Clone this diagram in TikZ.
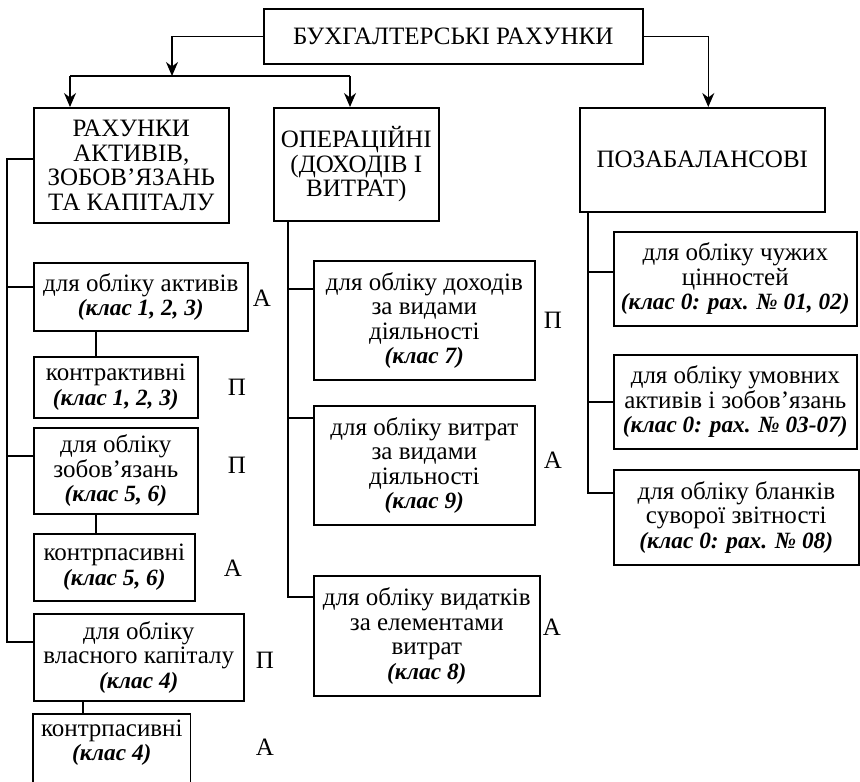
\documentclass[tikz,border=0pt]{standalone}
\usepackage{fontspec}
\setmainfont{Liberation Serif}
\usetikzlibrary{arrows.meta}
\newcommand\fsz{\fontsize{25}{24.5}\selectfont}
\newcommand\kl[1]{{\fontsize{23.3}{24.5}\selectfont\textbf{\textit{#1}}}}
\begin{document}
\begin{tikzpicture}[x=1pt,y=-1pt,
  box/.style={draw, line width=1.6pt, inner sep=0pt, align=center, anchor=north west, font=\fsz},
  lbl/.style={font=\fsz, inner sep=0pt},
  conn/.style={line width=1.6pt},
  arr/.style={line width=1.6pt, -{Stealth[length=14pt,width=12pt,inset=4.5pt]}}]
\useasboundingbox (0,0) rectangle (860,782);
\fill[white] (0,0) rectangle (860,782);
\clip (0,0) rectangle (860,782);

% top level
\node[box, minimum width=379, minimum height=55] (top) at (263,8) {БУХГАЛТЕРСЬКІ РАХУНКИ};
\node[box, minimum width=195, minimum height=115] (b1) at (33,107) {РАХУНКИ\\АКТИВІВ,\\ЗОБОВ’ЯЗАНЬ\\ТА КАПІТАЛУ};
\node[box, minimum width=165, minimum height=113] (b2) at (273,107) {ОПЕРАЦІЙНІ\\(ДОХОДІВ І\\ВИТРАТ)};
\node[box, minimum width=245, minimum height=104] (b3) at (579,107) {ПОЗАБАЛАНСОВІ};

% left column
\node[box, minimum width=214, minimum height=68] (a1) at (33,262) {для обліку активів\\\kl{(клас 1, 2, 3)}};
\node[box, minimum width=164, minimum height=61] (a2) at (33,356) {контрактивні\\\kl{(клас 1, 2, 3)}};
\node[box, minimum width=164, minimum height=86] (a3) at (33,427) {для обліку\\зобов’язань\\\kl{(клас 5, 6)}};
\node[box, minimum width=161, minimum height=67] (a4) at (33,533) {контрпасивні\\\kl{(клас 5, 6)}};
\node[box, minimum width=210, minimum height=87] (a5) at (33,613) {для обліку\\власного капіталу\\\kl{(клас 4)}};
\node[box, draw=none, minimum width=156, minimum height=56] (a6) at (33,714) {контрпасивні\\\kl{(клас 4)}};
\draw[conn] ([yshift=-60pt]a6.south west) -- (a6.north west) -- (a6.north east) -- ([yshift=-60pt]a6.south east);

% middle column
\node[box, minimum width=221, minimum height=119] (m1) at (313,260) {для обліку доходів\\за видами\\діяльності\\\kl{(клас 7)}};
\node[box, minimum width=221, minimum height=119] (m2) at (313,405) {для обліку витрат\\за видами\\діяльності\\\kl{(клас 9)}};
\node[box, minimum width=226, minimum height=120] (m3) at (313,575) {для обліку видатків\\за елементами\\витрат\\\kl{(клас 8)}};

% right column
\node[box, minimum width=243, minimum height=94] (r1) at (613,231) {для обліку чужих\\цінностей\\\kl{(клас 0: рах. № 01, 02)}};
\node[box, minimum width=243, minimum height=94] (r2) at (613,354) {для обліку умовних\\активів і зобов’язань\\\kl{(клас 0: рах. № 03-07)}};
\node[box, minimum width=245, minimum height=95] (r3) at (613,469) {для обліку бланків\\суворої звітності\\\kl{(клас 0: рах. № 08)}};

% side labels
\node[lbl] (la1) at (262,298) {А};
\node[lbl] (la2) at (237,387) {П};
\node[lbl] (la3) at (237,465) {П};
\node[lbl] (la4) at (233,568) {А};
\node[lbl] (la5) at (265,660) {П};
\node[lbl] (la6) at (265,747) {А};
\node[lbl] (lm1) at (553,320) {П};
\node[lbl] (lm2) at (553,460) {А};
\node[lbl] (lm3) at (552,627) {А};

% top connectors
\coordinate (hm) at (172,76);
\coordinate (hl) at (70,76);
\coordinate (hr) at (350,76);
\draw[arr] (top.west) -| (hm);
\draw[conn] (hl) -- (hr);
\draw[arr] (hl) -- (b1.north -| hl);
\draw[arr] (hr) -- (b2.north -| hr);
\draw[arr] (top.east) -| ([xshift=6pt]b3.north);

% left trunk
\coordinate (lt) at (7,159);
\coordinate (lj1) at (7,287);
\coordinate (lj3) at (7,456);
\coordinate (lb) at (7,642);
\draw[conn] (b1.west |- lt) -- (lt) -- (lb) -- (a5.west |- lb);
\draw[conn] (lj1) -- (a1.west |- lj1);
\draw[conn] (lj3) -- (a3.west |- lj3);
\draw[conn] ([xshift=63pt]a1.south west) -- ([xshift=63pt]a2.north west);
\draw[conn] ([xshift=63pt]a3.south west) -- ([xshift=63pt]a4.north west);
\draw[conn] ([xshift=50pt]a5.south west) -- ([xshift=50pt]a6.north west);

% middle trunk
\coordinate (mj1) at (288,289);
\coordinate (mj2) at (288,418);
\coordinate (mb) at (288,597);
\draw[conn] ([xshift=15pt]b2.south west) |- (m3.west |- mb);
\draw[conn] (mj1) -- (m1.west |- mj1);
\draw[conn] (mj2) -- (m2.west |- mj2);

% right trunk
\coordinate (rj1) at (588,272);
\coordinate (rj2) at (588,402);
\coordinate (rb) at (588,493);
\draw[conn] ([xshift=9pt]b3.south west) |- (r3.west |- rb);
\draw[conn] (rj1) -- (r1.west |- rj1);
\draw[conn] (rj2) -- (r2.west |- rj2);
\end{tikzpicture}
\end{document}
